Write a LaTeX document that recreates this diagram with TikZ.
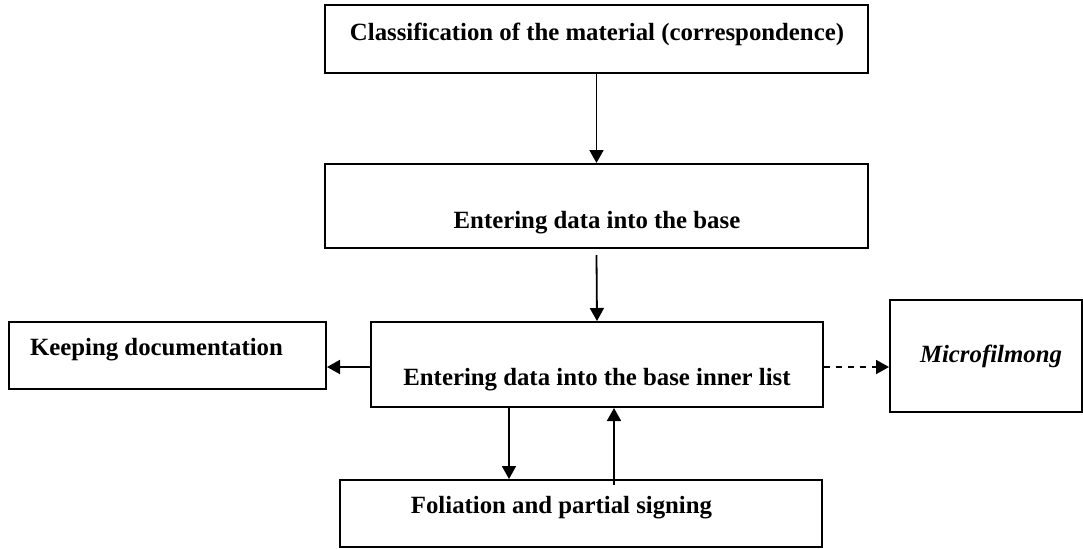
\documentclass[tikz,border=0pt]{standalone}
\usepackage{fontspec}
\setmainfont{Liberation Serif}
\usetikzlibrary{positioning, arrows.meta}

\tikzset{
    box/.style={draw, rectangle, line width=1pt, inner sep=0pt},
    lbl/.style={anchor=base, inner sep=0pt, font=\fontsize{12.4}{14}\selectfont\bfseries},
    arr/.style={-{Triangle[length=6.5pt, width=7pt]}, line width=0.9pt},
}

\begin{document}
\begin{tikzpicture}[x=0.5pt, y=-0.5pt]
    \useasboundingbox (0,0) rectangle (1083,548);

    % boxes
    \node[box, minimum width=271.5pt, minimum height=34pt] (cls) at (596.5,39) {};
    \node[box, minimum width=271.5pt, minimum height=42pt] (base) at (596.5,206) {};
    \node[box, minimum width=226pt, minimum height=42.5pt] (inner) at (597,364.5) {};
    \node[box, minimum width=158.5pt, minimum height=33.5pt] (keep) at (167.5,355.5) {};
    \node[box, minimum width=96pt, minimum height=56pt] (micro) at (986,356) {};
    \node[box, minimum width=241pt, minimum height=33.5pt] (fol) at (581,513.5) {};

    % texts
    \node[lbl] (clstext) at (597,40) {Classification of the material (correspondence)};
    \node[lbl] (basetext) at (597,228) {Entering data into the base};
    \node[lbl] (innertext) at (597,385.5) {Entering data into the base inner list};
    \node[lbl] (keeptext) at (156.5,355) {Keeping documentation};
    \node[lbl, font=\fontsize{12.4}{14}\selectfont\bfseries\itshape] (microtext) at (991,362.5) {Microfilmong};
    \node[lbl] (foltext) at (561.5,513) {Foliation and partial signing};

    % help coordinates
    \coordinate (mid) at (597,367); % side arrows
    \coordinate (dn) at (509,0);
    \coordinate (up) at (614,0);
    \coordinate (upstart) at (614,485);

    % connectors
    \draw[arr] (cls) -- (base);
    \draw[arr] ([yshift=-3pt]base.south) -- (inner.north);
    \draw[arr] (inner.west |- mid) -- (keep.east |- mid);
    \draw[arr, dashed] (inner.east |- mid) -- (micro.west |- mid);
    \draw[arr] (inner.south -| dn) -- (fol.north -| dn);
    \draw[arr] (upstart) -- (inner.south -| up);
\end{tikzpicture}
\end{document}
